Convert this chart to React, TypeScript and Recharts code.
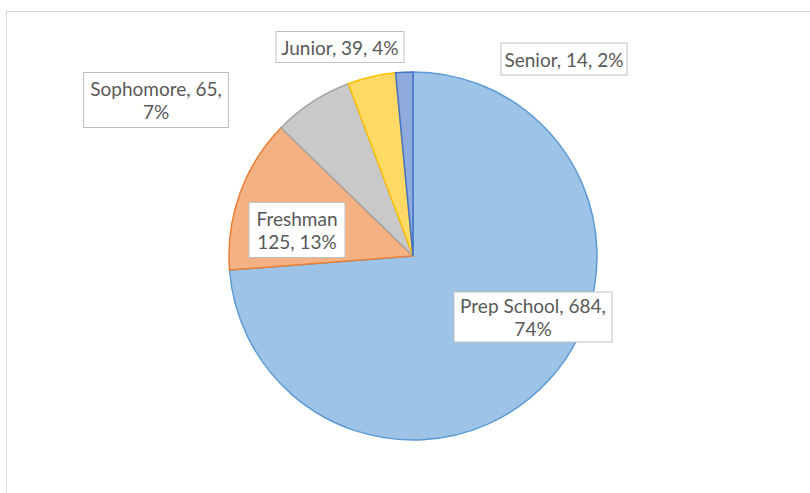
import { PieChart, Pie, Cell } from "recharts"

const classes = ["Prep School", "Freshman", "Sophomore", "Junior", "Senior"]
const counts = [684, 125, 65, 39, 14]

const fills = ["#9dc3e6", "#f4b183", "#c9c9c9", "#ffd966", "#8faadc"]
const edges = ["#5b9bd5", "#ed7d31", "#a5a5a5", "#ffc000", "#4472c4"]

// where each data label box sits, relative to the pie centre
const labelBoxes: Record<string, { dx: number; dy: number; w: number; h: number; wrap: string }> = {
  "Prep School": { dx: 120, dy: 61, w: 158, h: 50, wrap: "value" },
  Freshman: { dx: -116, dy: -26, w: 96, h: 55, wrap: "name" },
  Sophomore: { dx: -257, dy: -156, w: 145, h: 55, wrap: "value" },
  Junior: { dx: -73, dy: -209, w: 128, h: 31, wrap: "none" },
  Senior: { dx: 151, dy: -197, w: 126, h: 32, wrap: "none" },
}

const data = classes.map((name, i) => ({ name, value: counts[i] }))

const renderLabel = (props: any) => {
  const { cx, cy, name, value, percent } = props
  const box = labelBoxes[name]
  const pct = Math.round(percent * 100)
  let lines: string[]
  if (box.wrap === "name") lines = [name, `${value}, ${pct}%`]
  else if (box.wrap === "value") lines = [`${name}, ${value},`, `${pct}%`]
  else lines = [`${name}, ${value}, ${pct}%`]
  const x = cx + box.dx
  const y = cy + box.dy
  const lineH = 23
  const top = y - ((lines.length - 1) * lineH) / 2
  return (
    <g key={name}>
      <rect x={x - box.w / 2} y={y - box.h / 2} width={box.w} height={box.h} fill="#fff" stroke="#bfbfbf" strokeWidth={1} />
      {lines.map((t, i) => (
        <text
          key={i}
          x={x}
          y={top + i * lineH}
          textAnchor="middle"
          dominantBaseline="central"
          fill="#595959"
          fontSize={19}
          fontFamily="Lato, sans-serif"
        >
          {t}
        </text>
      ))}
    </g>
  )
}

export default function App() {
  return (
    <div style={{ position: "absolute", left: 0, top: 0, width: 810, height: 493, overflow: "hidden", background: "#fff" }}>
      <div
        style={{
          position: "absolute",
          left: 6,
          top: 11,
          width: 900,
          height: 600,
          border: "1px solid #d9d9d9",
        }}
      />
      <div style={{ position: "absolute", left: 0, top: 0 }}>
        <PieChart width={810} height={493} margin={{ top: 0, right: 0, bottom: 0, left: 0 }}>
          <Pie
            data={data}
            dataKey="value"
            nameKey="name"
            cx={413}
            cy={256}
            outerRadius={184}
            startAngle={90}
            endAngle={-270}
            label={renderLabel}
            labelLine={false}
            isAnimationActive={false}
          >
            {data.map((entry, i) => (
              <Cell key={entry.name} fill={fills[i]} stroke={edges[i]} strokeWidth={1.5} />
            ))}
          </Pie>
        </PieChart>
      </div>
    </div>
  )
}
